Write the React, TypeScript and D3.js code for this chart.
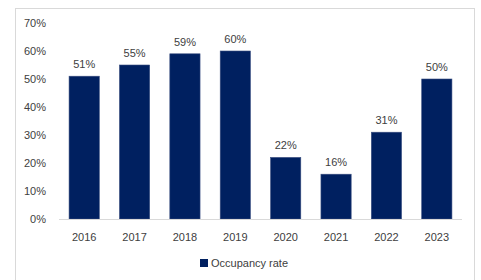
import { useEffect, useRef } from 'react'
import * as d3 from 'd3'

const years = ['2016', '2017', '2018', '2019', '2020', '2021', '2022', '2023']
const occupancy = [51, 55, 59, 60, 22, 16, 31, 50]
const yTicks = [0, 10, 20, 30, 40, 50, 60, 70]
const seriesName = 'Occupancy rate'

export default function App() {
  const svgRef = useRef<SVGSVGElement>(null)

  useEffect(() => {
    const svg = d3.select(svgRef.current)
    svg.selectAll('*').remove()

    const font = 'Liberation Sans, Arial, sans-serif'
    const textColor = '#404040'
    const barColor = '#002060'

    // outer frame
    svg.append('rect')
      .attr('x', 15.5).attr('y', 8.5)
      .attr('width', 459).attr('height', 290)
      .attr('fill', 'white')
      .attr('stroke', '#d9d9d9')

    const x = d3.scaleBand<string>().domain(years).range([59, 462]).paddingInner(0.4).paddingOuter(0.2)
    const y = d3.scaleLinear().domain([0, 70]).range([219, 23])

    // y tick labels
    svg.append('g')
      .selectAll('text')
      .data(yTicks)
      .join('text')
      .attr('x', 46)
      .attr('y', d => y(d) + 4)
      .attr('text-anchor', 'end')
      .attr('font-family', font)
      .attr('font-size', 11)
      .attr('fill', textColor)
      .text(d => d + '%')

    // bars
    svg.append('g')
      .selectAll('rect')
      .data(occupancy)
      .join('rect')
      .attr('x', (_, i) => x(years[i])!)
      .attr('y', d => y(d))
      .attr('width', x.bandwidth())
      .attr('height', d => y(0) - y(d))
      .attr('fill', barColor)
      .attr('stroke', '#3a4f80')
      .attr('stroke-width', 0.6)

    // value labels
    svg.append('g')
      .selectAll('text')
      .data(occupancy)
      .join('text')
      .attr('x', (_, i) => x(years[i])! + x.bandwidth() / 2)
      .attr('y', d => y(d) - 8)
      .attr('text-anchor', 'middle')
      .attr('font-family', font)
      .attr('font-size', 11)
      .attr('fill', textColor)
      .text(d => d + '%')

    // baseline
    svg.append('line')
      .attr('x1', 59).attr('x2', 462)
      .attr('y1', y(0) + 0.5).attr('y2', y(0) + 0.5)
      .attr('stroke', '#d9d9d9')

    // x labels
    svg.append('g')
      .selectAll('text')
      .data(years)
      .join('text')
      .attr('x', d => x(d)! + x.bandwidth() / 2)
      .attr('y', 241)
      .attr('text-anchor', 'middle')
      .attr('font-family', font)
      .attr('font-size', 11)
      .attr('fill', textColor)
      .text(d => d)

    // legend
    const legend = svg.append('g').attr('transform', 'translate(200,259)')
    legend.append('rect')
      .attr('width', 8).attr('height', 8)
      .attr('fill', barColor)
    legend.append('text')
      .attr('x', 11).attr('y', 8)
      .attr('font-family', font)
      .attr('font-size', 11)
      .attr('fill', textColor)
      .text(seriesName)
  }, [])

  return (
    <svg ref={svgRef} width={481} height={280}
      style={{ position: 'absolute', left: 0, top: 0, display: 'block' }} />
  )
}
